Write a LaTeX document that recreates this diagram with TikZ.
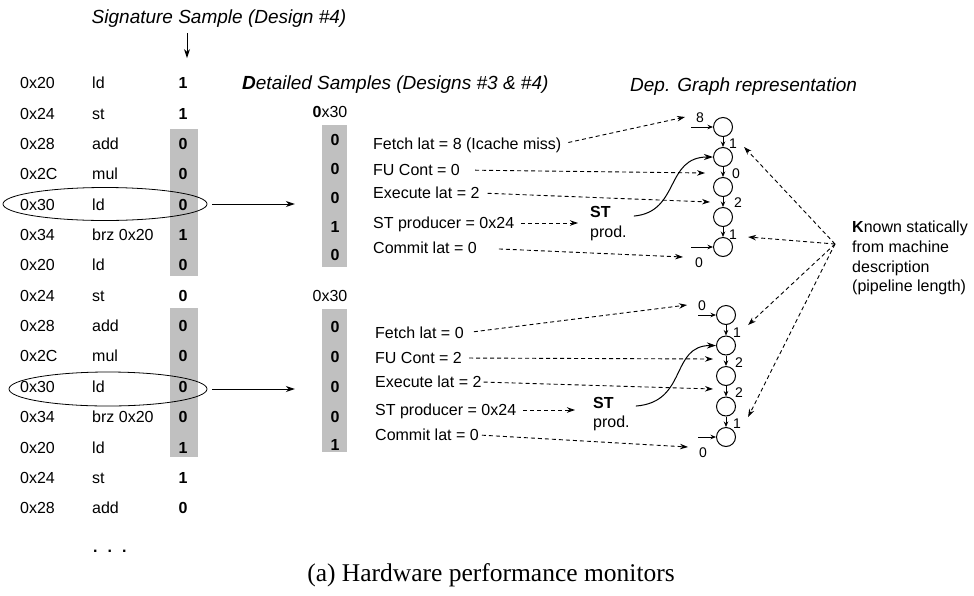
\documentclass[tikz,border=0pt]{standalone}
\usepackage{fontspec}
\setmainfont{Liberation Sans}
\newfontfamily\captionserif{Liberation Serif}
\usetikzlibrary{arrows.meta,shapes.geometric,calc}
\definecolor{sampleshade}{RGB}{192,192,192}
\tikzset{
  txt/.style={inner sep=0pt, font=\fontsize{16}{19}\selectfont, text height=11.5pt, text depth=0pt},
  lft/.style={txt, anchor=west},
  bit/.style={inner sep=0pt, font=\fontsize{16}{19}\selectfont\bfseries, text height=11.5pt, text depth=0pt},
  ttl/.style={inner sep=0pt, font=\fontsize{19}{23}\selectfont\itshape, text height=13.6pt, text depth=0pt},
  shade/.style={fill=sampleshade, draw=none, inner sep=0pt},
  stg/.style={circle, draw, line width=1pt, minimum size=19pt, inner sep=0pt},
  elab/.style={inner sep=0pt, font=\fontsize{14}{16}\selectfont, text height=10pt, text depth=0pt},
  dep/.style={line width=0.9pt, dash pattern=on 4pt off 3pt, -{Stealth[length=8pt,width=5.5pt]}},
  flow/.style={line width=1pt, -{Stealth[length=9pt,width=6pt]}},
  tiny/.style={line width=1pt, -{Stealth[length=5.5pt,width=4.5pt]}},
  selring/.style={ellipse, draw, line width=0.8pt, inner sep=0pt},
}
\begin{document}
\begin{tikzpicture}[x=1pt, y=-1pt]
\useasboundingbox (0,0) rectangle (974,595);

% ---- titles ----
\node[ttl] (sig) at (219,17) {Signature Sample (Design \#4)};
\node[ttl, anchor=west] (dtitle) at (242,83) {\textbf{D}etailed Samples (Designs \#3 \& \#4)};
\node[ttl, anchor=west] (gtitle) at (630,85) {Dep. Graph representation};

% ---- shaded windows of the signature column ----
\node[shade, minimum width=28pt, minimum height=147pt] (win1) at (184,202.5) {};
\node[shade, minimum width=28pt, minimum height=149pt] (win2) at (184,382.5) {};

% ---- instruction trace with signature bits ----
\foreach \ad/\op/\bt [count=\i] in {0x20/ld/1, 0x24/st/1, 0x28/add/0, 0x2C/mul/0, 0x30/ld/0,
    0x34/brz 0x20/1, 0x20/ld/0, 0x24/st/0, 0x28/add/0, 0x2C/mul/0, 0x30/ld/0,
    0x34/brz 0x20/0, 0x20/ld/1, 0x24/st/1, 0x28/add/0} {
  \pgfmathsetmacro{\yy}{83+(\i-1)*30.36}
  \node[lft] (ad\i) at (20,\yy) {\ad};
  \node[lft] (op\i) at (92,\yy) {\op};
  \node[bit] (bt\i) at (183,\yy) {\bt};
}
\node[bit, anchor=west] (dots) at (93,547) {.\hspace{10pt}.\hspace{10pt}.};

\draw[flow] ($(sig.south -| bt1.north)+(4,9)$) -- ($(bt1.north)+(4,-19)$);

% ---- selected load instructions ----
\node[selring, minimum width=204pt, minimum height=33pt] (sel1) at (105,204) {};
\node[selring, minimum width=198pt, minimum height=34pt] (sel2) at (108,389) {};

% ---- detailed sample columns ----
\node[shade, minimum width=25pt, minimum height=142pt] (det1) at (334.5,196) {};
\node[shade, minimum width=25pt, minimum height=143pt] (det2) at (334.5,380.5) {};
\node[txt] (pc1) at (330,112) {\textbf{0}x30};
\node[txt] (pc2) at (330,296) {0x30};
\foreach \b/\yy [count=\i] in {0/140, 0/169, 0/198, 1/227, 0/255}
  \node[bit] (da\i) at (335,\yy) {\b};
\foreach \b/\yy [count=\i] in {0/327, 0/357, 0/387, 0/417, 1/445}
  \node[bit] (db\i) at (335,\yy) {\b};

\draw[flow, shorten <=5pt, shorten >=27pt] (sel1.east) -- (sel1.east -| det1.west);
\draw[flow, shorten <=5pt, shorten >=27pt] (sel2.east) -- (sel2.east -| det2.west);

% ---- decoded fields, first sample ----
\node[lft] (f1) at (373,144) {Fetch lat = 8 (Icache miss)};
\node[lft] (u1) at (373,170) {FU Cont = 0};
\node[lft] (e1) at (373,193) {Execute lat = 2};
\node[lft] (s1) at (373,223) {ST producer = 0x24};
\node[lft] (m1) at (373,248) {Commit lat = 0};
\node[txt, anchor=west, font=\fontsize{16}{19}\selectfont\bfseries] (st1) at (590,212) {ST};
\node[lft] (pr1) at (590,232) {prod.};

% ---- decoded fields, second sample ----
\node[lft] (f2) at (375,333) {Fetch lat = 0};
\node[lft] (u2) at (375,358) {FU Cont = 2};
\node[lft] (e2) at (375,382) {Execute lat = 2};
\node[lft] (s2) at (375,410) {ST producer = 0x24};
\node[lft] (m2) at (375,435) {Commit lat = 0};
\node[txt, anchor=west, font=\fontsize{16}{19}\selectfont\bfseries] (st2) at (593,403) {ST};
\node[lft] (pr2) at (593,422) {prod.};

% ---- dependence graph, first sample ----
\foreach \i/\yy in {1/127, 2/157, 3/187, 4/217, 5/247}
  \node[stg] (a\i) at (723,\yy) {};
\foreach \i [evaluate=\i as \j using int(\i+1)] in {1,...,4}
  \draw[tiny] (a\i) -- (a\j);
\draw[tiny] ($(a1.west)+(-22,0)$) -- (a1.west);
\draw[tiny] ($(a5.west)+(-22,0)$) -- (a5.west);
\node[elab] (la0) at (700,117) {8};
\node[elab] (la1) at (733,143) {1};
\node[elab] (la2) at (736,173) {0};
\node[elab] (la3) at (738,202) {2};
\node[elab] (la4) at (733,234) {1};
\node[elab] (la5) at (699,262) {0};

% ---- dependence graph, second sample ----
\foreach \i/\yy in {1/315, 2/345.5, 3/376, 4/406.5, 5/437}
  \node[stg] (b\i) at (726,\yy) {};
\foreach \i [evaluate=\i as \j using int(\i+1)] in {1,...,4}
  \draw[tiny] (b\i) -- (b\j);
\draw[tiny] ($(b1.west)+(-18,0)$) -- (b1.west);
\draw[tiny] ($(b5.west)+(-18,0)$) -- (b5.west);
\node[elab] (lb0) at (702,305) {0};
\node[elab] (lb1) at (737,332) {1};
\node[elab] (lb2) at (739,362) {2};
\node[elab] (lb3) at (739,392) {2};
\node[elab] (lb4) at (737,423) {1};
\node[elab] (lb5) at (703,452) {0};

% ---- arrow end points beside the graphs ----
\coordinate (tf1) at (685,117);
\coordinate (tu1) at (705,173);
\coordinate (te1) at (710,202);
\coordinate (tm1) at (683,257);
\coordinate (tf2) at (687,305);
\coordinate (tu2) at (713,359);
\coordinate (te2) at (713,389);
\coordinate (tm2) at (688,447);

% ---- field to graph mapping ----
\draw[dep, shorten <=7pt] (f1.east) -- (tf1);
\draw[dep, shorten <=15pt] (u1.east) -- (tu1);
\draw[dep, shorten <=8pt] (e1.east) -- (te1);
\draw[dep, shorten <=7pt, shorten >=12pt] (s1.east) -- (s1.east -| st1.west);
\draw[dep, shorten <=22pt] (m1.east) -- (tm1);
\draw[dep, shorten <=10pt] (f2.east) -- (tf2);
\draw[dep, shorten <=7pt] (u2.east) -- (tu2);
\draw[dep, shorten <=2pt] (e2.east) -- (te2);
\draw[dep, shorten <=7pt, shorten >=18pt] (s2.east) -- (s2.east -| st2.west);
\draw[dep, shorten <=3pt] (m2.east) -- (tm2);

% ---- store producer edges ----
\draw[flow] ($(pr1.north east)+(7,-10)$) .. controls (680,212) and (665,157) .. (a2.west);
\draw[flow] ($(pr2.north east)+(6,-10)$) .. controls (688,402) and (670,345.5) .. (b2.west);

% ---- statically known latencies ----
\node[anchor=north west, align=left, inner sep=0pt, font=\fontsize{16}{19.7}\selectfont] (known) at (852,221)
  {\textbf{K}nown statically\\from machine\\description\\(pipeline length)};
\coordinate (src) at (835,244);
\draw[dep] (src) -- ($(la1.east)+(7,4)$);
\draw[dep] (src) -- ($(la4.east)+(11,3)$);
\draw[dep] (src) -- ($(lb1.east)+(7,-7)$);
\draw[dep] (src) -- ($(lb4.east)+(7,-6)$);

% ---- caption ----
\node[inner sep=0pt, font=\captionserif\fontsize{25.5}{30}\selectfont] (cap) at (491,575) {(a) Hardware performance monitors};
\end{tikzpicture}
\end{document}
